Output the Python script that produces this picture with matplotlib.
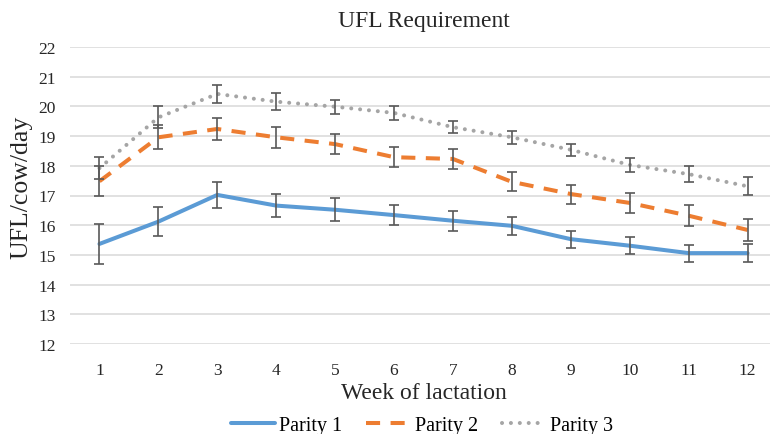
import numpy as np
import matplotlib
matplotlib.use("Agg")
import matplotlib.pyplot as plt

weeks = np.arange(1, 13)

# mean UFL requirement per parity and the error bar half-widths
parity1 = [15.37, 16.12, 17.02, 16.66, 16.52, 16.34, 16.15, 15.98, 15.53, 15.31, 15.06, 15.06]
parity1_err = [0.68, 0.50, 0.45, 0.40, 0.38, 0.34, 0.33, 0.30, 0.29, 0.29, 0.29, 0.30]

parity2 = [17.48, 18.96, 19.24, 18.96, 18.73, 18.29, 18.23, 17.46, 17.05, 16.75, 16.32, 15.84]
parity2_err = [0.50, 0.41, 0.36, 0.35, 0.34, 0.33, 0.33, 0.32, 0.32, 0.33, 0.36, 0.38]

parity3 = [17.92, 19.63, 20.42, 20.16, 19.99, 19.78, 19.30, 18.96, 18.54, 18.03, 17.72, 17.31]
parity3_err = [0.38, 0.37, 0.30, 0.28, 0.23, 0.23, 0.20, 0.21, 0.21, 0.24, 0.27, 0.30]

plt.rcParams['font.family'] = ['Liberation Serif', 'DejaVu Serif']

fig = plt.figure(figsize=(7.7, 4.35), dpi=100)
ax = fig.add_axes([70 / 770, 1 - 345 / 435, 707 / 770, 297 / 435])

err_kw = dict(fmt='none', ecolor='#595959', elinewidth=1.2, capsize=3.5, capthick=1.2, zorder=4)

ax.plot(weeks, parity1, color='#5B9BD5', lw=2.9, solid_capstyle='round', label='Parity 1', zorder=3)
ax.errorbar(weeks, parity1, yerr=parity1_err, **err_kw)

ax.plot(weeks, parity2, color='#ED7D31', lw=2.9, dashes=(3.5, 2.6), dash_capstyle='butt', label='Parity 2', zorder=3)
ax.errorbar(weeks, parity2, yerr=parity2_err, **err_kw)

ax.plot(weeks, parity3, color='#A5A5A5', lw=2.9, dashes=(0.01, 2.2), dash_capstyle='round', label='Parity 3', zorder=3)
ax.errorbar(weeks, parity3, yerr=parity3_err, **err_kw)

ax.set_xlim(0.5, 12.5)
ax.set_ylim(12, 22)
ax.set_xticks(weeks)
ax.set_yticks(np.arange(12, 23, 1))
ax.grid(axis='y', color='#D9D9D9', lw=1.1)
ax.set_axisbelow(True)
for s in ax.spines.values():
    s.set_visible(False)
ax.tick_params(length=0, labelsize=12.5, colors='#262626', pad=13)
ax.tick_params(axis='y', pad=10)

ax.set_title('UFL Requirement', fontsize=17, color='#262626', pad=15)
ax.set_xlabel('Week of lactation', fontsize=17, color='#262626', labelpad=3)
ax.set_ylabel('UFL/cow/day', fontsize=18.5, color='#262626')
ax.yaxis.set_label_coords(-0.053, 0.53)

fig.legend(loc='center', bbox_to_anchor=(422 / 770, 1 - 426 / 435), ncol=3, frameon=False,
           fontsize=14.5, handlelength=2.2, columnspacing=1.2, handletextpad=0.2)

fig.savefig('out.png', dpi=100)
